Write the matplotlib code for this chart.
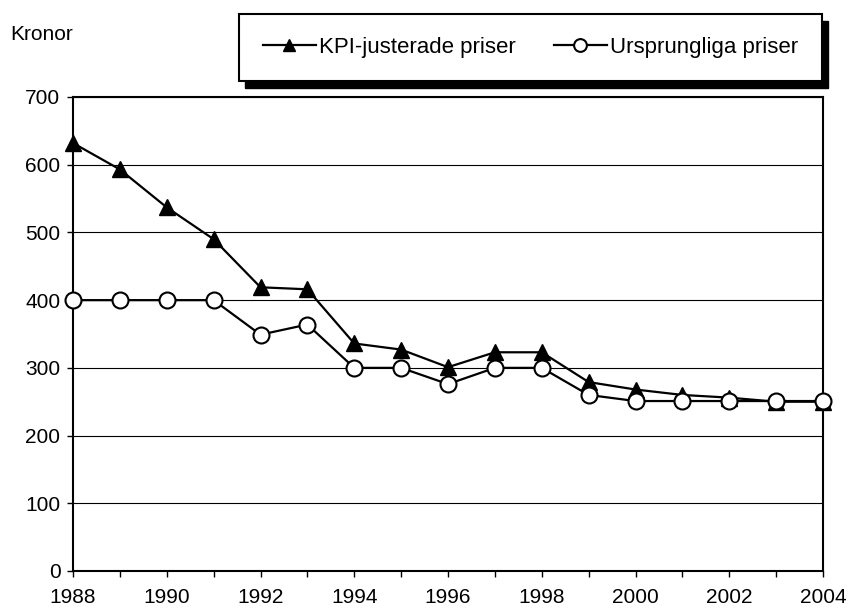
import matplotlib
matplotlib.use("Agg")
import matplotlib.pyplot as plt
from matplotlib.patches import Rectangle
from matplotlib.ticker import MultipleLocator

plt.rcParams['font.family'] = ['Liberation Sans', 'DejaVu Sans']

years = list(range(1988, 2005))
kpi = [632, 593, 537, 490, 419, 416, 336, 327, 301, 323, 323, 279, 268, 260, 256, 250, 250]
original = [400, 400, 400, 400, 349, 364, 300, 300, 276, 300, 300, 260, 251, 251, 251, 251, 251]
labels = ["KPI-justerade priser", "Ursprungliga priser"]

W, H = 850, 610
fig = plt.figure(figsize=(8.5, 6.1), dpi=100)
ax = fig.add_axes([73 / W, 1 - 571 / H, (823 - 73) / W, (571 - 97) / H])

ax.plot(years, kpi, color='black', lw=1.6, marker='^', ms=11.5,
        mfc='black', mec='black', label=labels[0], zorder=3, clip_on=False)
ax.plot(years, original, color='black', lw=1.6, marker='o', ms=11.5,
        mfc='white', mec='black', mew=1.5, label=labels[1], zorder=4, clip_on=False)

ax.set_xlim(1988, 2004)
ax.set_ylim(0, 700)
ax.xaxis.set_major_locator(MultipleLocator(2))
ax.xaxis.set_minor_locator(MultipleLocator(1))
ax.yaxis.set_major_locator(MultipleLocator(100))
ax.yaxis.grid(True, color='black', lw=0.8)
ax.set_axisbelow(True)
for s in ax.spines.values():
    s.set_linewidth(1.5)
ax.tick_params(axis='both', which='both', direction='out', length=4, width=1,
               labelsize=15)
ax.tick_params(axis='x', which='both', pad=8)
ax.tick_params(axis='y', pad=5)

fig.text(10 / W, 1 - 35 / H, "Kronor", fontsize=15, va='center', ha='left')

# legend box with hard shadow
bx0, bx1, by0, by1 = 239, 822, 14, 81
fig.patches.append(Rectangle(((bx0 + 6) / W, 1 - (by1 + 7) / H), (bx1 - bx0) / W,
                             (by1 - by0) / H, transform=fig.transFigure,
                             facecolor='black', edgecolor='black', zorder=1))
fig.patches.append(Rectangle((bx0 / W, 1 - by1 / H), (bx1 - bx0) / W,
                             (by1 - by0) / H, transform=fig.transFigure,
                             facecolor='white', edgecolor='black', lw=1.5, zorder=2))
leg = fig.legend(loc='center', bbox_to_anchor=((bx0 + bx1) / 2 / W, 1 - (by0 + by1) / 2 / H),
                 ncol=2, frameon=False, fontsize=16, handlelength=2.4,
                 handletextpad=0.15, columnspacing=1.7, markerscale=0.8)
leg.set_zorder(5)

fig.savefig("out.png", dpi=100)
